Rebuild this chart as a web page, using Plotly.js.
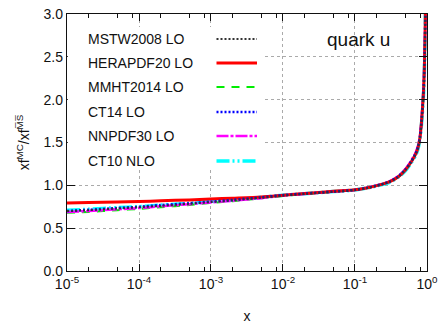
<!DOCTYPE html>
<html>
<head>
<meta charset="utf-8">
<script src="https://cdn.plot.ly/plotly-3.0.1.min.js"></script>
<style>html,body{margin:0;padding:0;background:#fff}#chart{width:438px;height:325px}</style>
</head>
<body>
<div id="chart"></div>
<script>
// ---- data ----
const xValues = [1e-5, 2e-5, 5e-5, 1e-4, 2e-4, 5e-4, 1e-3, 2e-3, 5e-3, 1e-2, 2e-2, 5e-2, 0.1, 0.15, 0.2, 0.3, 0.4, 0.5, 0.6, 0.7, 0.75, 0.8, 0.85, 0.9, 0.93, 0.95, 0.97];
const seriesNames = ["MSTW2008 LO", "HERAPDF20 LO", "MMHT2014 LO", "CT14 LO", "NNPDF30 LO", "CT10 NLO"];
const mstw2008 = [0.700, 0.710, 0.730, 0.745, 0.760, 0.785, 0.805, 0.825, 0.855, 0.880, 0.900, 0.925, 0.945, 0.970, 0.995, 1.040, 1.100, 1.180, 1.270, 1.370, 1.440, 1.560, 1.800, 2.140, 2.550, 3.000, 3.800];
const herapdf20 = [0.795, 0.800, 0.805, 0.810, 0.820, 0.830, 0.840, 0.850, 0.865, 0.885, 0.905, 0.930, 0.948, 0.972, 0.997, 1.040, 1.100, 1.180, 1.270, 1.370, 1.440, 1.560, 1.800, 2.140, 2.550, 3.000, 3.800];
const mmht2014 = [0.680, 0.690, 0.710, 0.725, 0.745, 0.770, 0.795, 0.815, 0.850, 0.875, 0.897, 0.922, 0.945, 0.970, 0.995, 1.040, 1.100, 1.180, 1.270, 1.370, 1.440, 1.560, 1.800, 2.140, 2.550, 3.000, 3.800];
const ct14 = [0.700, 0.715, 0.735, 0.750, 0.770, 0.790, 0.810, 0.830, 0.860, 0.885, 0.903, 0.927, 0.947, 0.972, 0.997, 1.042, 1.105, 1.185, 1.275, 1.375, 1.450, 1.570, 1.810, 2.150, 2.560, 3.000, 3.800];
const nnpdf30 = [0.690, 0.700, 0.720, 0.735, 0.755, 0.780, 0.800, 0.820, 0.850, 0.880, 0.900, 0.925, 0.946, 0.972, 0.998, 1.045, 1.110, 1.190, 1.285, 1.390, 1.460, 1.580, 1.830, 2.180, 2.600, 3.050, 3.850];
const ct10 = [0.710, 0.720, 0.740, 0.750, 0.770, 0.790, 0.810, 0.830, 0.860, 0.885, 0.903, 0.927, 0.946, 0.970, 0.993, 1.035, 1.095, 1.170, 1.260, 1.355, 1.425, 1.540, 1.770, 2.100, 2.500, 2.950, 3.750];
const xTickVals = [1e-5, 1e-4, 1e-3, 1e-2, 1e-1, 1];
const xTickText = ["10<sup>-5</sup>", "10<sup>-4</sup>", "10<sup>-3</sup>", "10<sup>-2</sup>", "10<sup>-1</sup>", "10<sup>0</sup>"];
const xMinorVals = [2e-5, 5e-5, 8e-5, 2e-4, 5e-4, 8e-4, 2e-3, 5e-3, 8e-3, 2e-2, 5e-2, 8e-2, 0.2, 0.5, 0.8];
const yTickVals = [0, 0.5, 1.0, 1.5, 2.0, 2.5, 3.0];
const yTickText = ["0.0", "0.5", "1.0", "1.5", "2.0", "2.5", "3.0"];

// ---- styles ----
const styles = [
  {color: "#333333", dash: "2px,2px", width: 2},
  {color: "#ff0000", dash: "solid", width: 3},
  {color: "#00ee00", dash: "8px,7px", width: 2},
  {color: "#0000ff", dash: "2px,2px", width: 2.5},
  {color: "#ff00ff", dash: "12px,2px,3px,2px", width: 2.5},
  {color: "#00ffff", dash: "13px,3px,2px,3px,2px,3px", width: 3.5}
];
const ySeries = [mstw2008, herapdf20, mmht2014, ct14, nnpdf30, ct10];
const drawOrder = [5, 2, 4, 1, 3, 0];

const traces = drawOrder.map(i => ({
  type: "scatter", mode: "lines", x: xValues, y: ySeries[i], name: seriesNames[i],
  line: {color: styles[i].color, dash: styles[i].dash, width: styles[i].width, shape: "spline", smoothing: 0.8},
  showlegend: false, hoverinfo: "skip"
}));

// plot area in pixels: left 67, right 427, top 14, bottom 271
const W = 360, H = 257;
const px = v => (v - 67) / W;
const py = v => (271 - v) / H;

const rowY = [39, 63, 87, 112, 136, 161];
const shapes = [{type: "rect", xref: "paper", yref: "paper", x0: px(67.8), x1: px(263), y0: py(170), y1: py(27), fillcolor: "#ffffff", line: {width: 0}, layer: "above"}];
const annotations = [];
seriesNames.forEach((n, i) => {
  annotations.push({xref: "paper", yref: "paper", x: px(86), y: py(rowY[i]), xanchor: "left", yanchor: "middle", text: n, showarrow: false, font: {family: "Liberation Sans, Arial, sans-serif", size: 14, color: "#111"}});
  shapes.push({type: "line", xref: "paper", yref: "paper", x0: px(216.5), x1: px(257), y0: py(rowY[i]), y1: py(rowY[i]), line: {color: styles[i].color, dash: styles[i].dash, width: styles[i].width}, layer: "above"});
});
annotations.push({xref: "paper", yref: "paper", x: px(358), y: py(40), xanchor: "center", yanchor: "middle", text: "quark u", showarrow: false, font: {family: "Liberation Sans, Arial, sans-serif", size: 19, color: "#111"}});

const axisFont = {family: "Liberation Sans, Arial, sans-serif", size: 14, color: "#111"};
const layout = {
  width: 438, height: 325,
  margin: {l: 67, r: 11, t: 14, b: 54},
  paper_bgcolor: "#fff", plot_bgcolor: "#fff",
  font: axisFont,
  showlegend: false,
  xaxis: {
    type: "log", range: [-5, 0.0002], tickmode: "array", tickvals: xTickVals, ticktext: xTickText,
    ticks: "inside", ticklen: 7, tickwidth: 1, tickcolor: "#111",
    showline: true, linecolor: "#111", linewidth: 1.2, mirror: "ticks",
    showgrid: true, gridcolor: "#aaaaaa", griddash: "dot", gridwidth: 1,
    zeroline: false, tickfont: axisFont, ticklabeloverflow: "allow",
    minor: {tickmode: "array", tickvals: xMinorVals, ticks: "inside", ticklen: 4, tickcolor: "#111", showgrid: false},
    title: {text: "x", font: axisFont, standoff: 20}
  },
  yaxis: {
    range: [0, 3], tickmode: "array", tickvals: yTickVals, ticktext: yTickText,
    ticks: "inside", ticklen: 8, tickwidth: 1, tickcolor: "#111",
    showline: true, linecolor: "#111", linewidth: 1.2, mirror: "ticks",
    showgrid: true, gridcolor: "#aaaaaa", griddash: "dot", gridwidth: 1,
    zeroline: false, tickfont: axisFont,
    title: {text: "xf<sup>MC</sup>/xf<sup>M\u0305S\u0305</sup>", font: {family: "Liberation Sans, Arial, sans-serif", size: 14, color: "#111"}, standoff: 10}
  },
  shapes: shapes,
  annotations: annotations
};

Plotly.newPlot("chart", traces, layout, {staticPlot: true, displayModeBar: false});
</script>
</body>
</html>
